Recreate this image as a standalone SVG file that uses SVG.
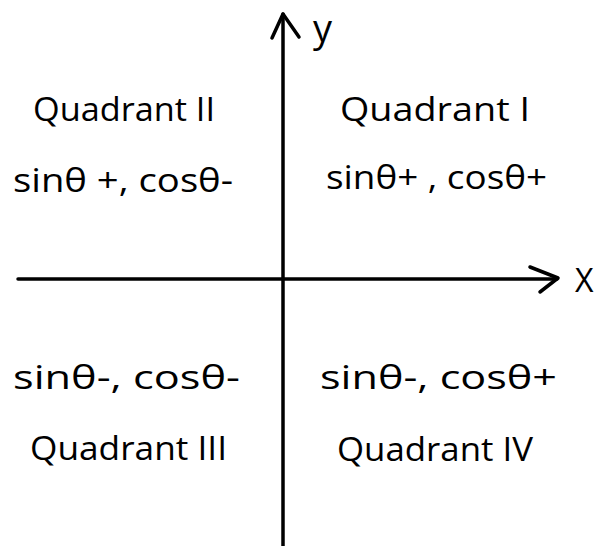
<svg xmlns="http://www.w3.org/2000/svg" width="598" height="546" viewBox="0 0 598 546">
<style>
.ax{stroke:#000;stroke-width:3.5;fill:none;stroke-linecap:round;stroke-linejoin:round}
.t{font-family:"Open Sans","Liberation Sans",sans-serif;font-size:32px;fill:#000}
</style>
<rect width="598" height="546" fill="#fff"/>
<g id="connectors">
<path class="ax" d="M283 14 L283 546"/>
<path class="ax" d="M272 38 L283 14 L299 37"/>
<path class="ax" d="M18 279 L557 279"/>
<path class="ax" d="M530 267 L558 278 L540 292"/>
</g>
<g id="axis-y"><text class="t" x="313" y="42" style="font-size:38px">y</text></g>
<g id="axis-x"><text class="t" x="575" y="292">X</text></g>
<g id="q2">
<text class="t" x="33" y="121" textLength="182" lengthAdjust="spacingAndGlyphs">Quadrant II</text>
<text class="t" x="13" y="192" textLength="220" lengthAdjust="spacingAndGlyphs">sinθ +, cosθ-</text>
</g>
<g id="q1">
<text class="t" x="340" y="121" textLength="190" lengthAdjust="spacingAndGlyphs">Quadrant I</text>
<text class="t" x="326" y="189" textLength="221" lengthAdjust="spacingAndGlyphs">sinθ+ , cosθ+</text>
</g>
<g id="q3">
<text class="t" x="13" y="389" textLength="227" lengthAdjust="spacingAndGlyphs">sinθ-, cosθ-</text>
<text class="t" x="30" y="460" textLength="197" lengthAdjust="spacingAndGlyphs">Quadrant III</text>
</g>
<g id="q4">
<text class="t" x="320" y="389" textLength="237" lengthAdjust="spacingAndGlyphs">sinθ-, cosθ+</text>
<text class="t" x="337" y="461" textLength="196" lengthAdjust="spacingAndGlyphs">Quadrant IV</text>
</g>
</svg>
